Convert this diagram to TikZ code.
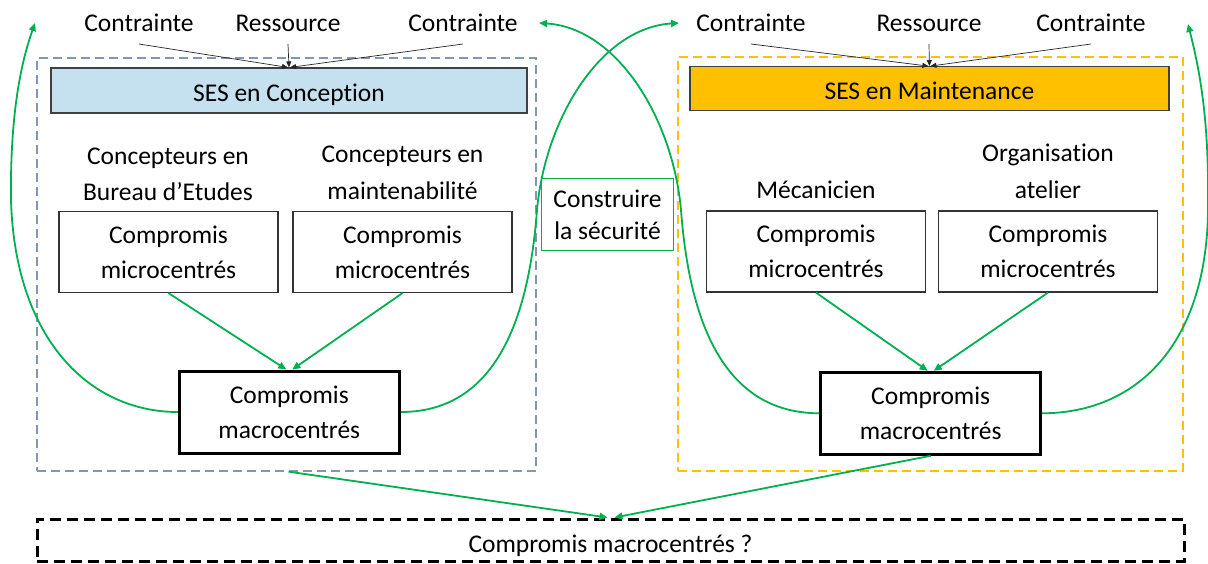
\documentclass[tikz,border=0pt]{standalone}
\usepackage{fontspec}
\setmainfont{Carlito}[Ligatures=NoCommon]
\usetikzlibrary{arrows.meta,calc}
\definecolor{grn}{HTML}{00B050}
\definecolor{lbcol}{HTML}{8497B0}
\definecolor{ybcol}{HTML}{FFC000}
\definecolor{sesblue}{HTML}{C5E0EE}
\definecolor{sesorange}{HTML}{FFC000}
\begin{document}
\begin{tikzpicture}[x=1pt,y=-1pt,
  txt/.style={font=\fontsize{25.5}{35}\selectfont, align=center, inner sep=0pt, text=black},
  toplbl/.style={txt, text height=18pt, text depth=0pt},
  lbl/.style={txt, font=\fontsize{25.5}{36.5}\selectfont},
  box/.style={txt, draw=black!80, line width=1.2pt, minimum width=219pt, minimum height=81pt},
  macro/.style={box, draw=black, line width=3pt, minimum width=220pt, minimum height=82pt},
  sesbox/.style={txt, draw=black!75, line width=1.2pt, text height=21pt, text depth=0pt},
  ga/.style={draw=grn, line width=1.8pt, -{Triangle[length=8pt,width=7pt]}},
  ba/.style={draw=black!85, line width=0.7pt, -{Triangle[length=6pt,width=5pt]}},
  cont/.style={inner sep=0pt, line width=1.3pt, dash pattern=on 9pt off 5pt}
]
\useasboundingbox (0,0) rectangle (1208,563);

% containers
\node[cont, draw=lbcol, minimum width=499pt, minimum height=413pt] (lbox) at (286.5,264.5) {};
\node[cont, draw=ybcol, minimum width=505pt, minimum height=414pt] (rbox) at (930.5,264) {};
\node[txt, draw=black, line width=3pt, dash pattern=on 11pt off 6pt, minimum width=1147pt, minimum height=42pt, text height=25pt, text depth=0pt] (bot) at (610.5,540) {Compromis macrocentrés ?};

% SES boxes
\node[sesbox, fill=sesblue, minimum width=476pt, minimum height=45pt] (ses1) at (289,90.5) {SES en Conception};
\node[sesbox, fill=sesorange, minimum width=479pt, minimum height=44pt] (ses2) at (929.4,88.7) {SES en Maintenance};

% top labels
\node[toplbl] (c1) at (139,22.5) {Contrainte};
\node[toplbl] (r1) at (288,22.5) {Ressource};
\node[toplbl] (c2) at (463,22.5) {Contrainte};
\node[toplbl] (c3) at (751,22.5) {Contrainte};
\node[toplbl] (r2) at (929,22.5) {Ressource};
\node[toplbl] (c4) at (1091,22.5) {Contrainte};

% actor labels
\node[lbl] (p1) at (168,174.5) {Concepteurs en\\Bureau d’Etudes};
\node[lbl] (p2) at (402.5,173) {Concepteurs en\\maintenabilité};
\node[txt, anchor=base] (p3) at (816,198.5) {Mécanicien};
\node[lbl] (p4) at (1048,171.5) {Organisation\\atelier};

% micro boxes
\node[box] (m1) at (168.5,252) {Compromis\\microcentrés};
\node[box] (m2) at (402.5,252) {Compromis\\microcentrés};
\node[box] (m3) at (816,251.5) {Compromis\\microcentrés};
\node[box] (m4) at (1048,251.5) {Compromis\\microcentrés};

% macro boxes
\node[macro] (ml) at (289.3,412) {Compromis\\macrocentrés};
\node[macro] (mr) at (930.7,413.3) {Compromis\\macrocentrés};

% central box
\node[txt, draw=grn, line width=1.2pt, minimum width=131.6pt, minimum height=72.4pt, font=\fontsize{25.5}{32}\selectfont] (cs) at (607.5,214.5) {Construire\\la sécurité};

% black input arrows
\draw[ba] ($(c1)+(0,21.5)$) -- ([xshift=-1pt]ses1.north);
\draw[ba] ($(r1)+(0,21.5)$) -- (ses1.north);
\draw[ba] ($(c2)+(0,21.5)$) -- ([xshift=1pt]ses1.north);
\draw[ba] ($(c3)+(0,21.5)$) -- ([xshift=-1pt]ses2.north);
\draw[ba] ($(r2)+(0,21.5)$) -- (ses2.north);
\draw[ba] ($(c4)+(0,21.5)$) -- ([xshift=1pt]ses2.north);

% micro -> macro
\draw[ga] (m1.south) -- ([xshift=-3pt]ml.north);
\draw[ga] (m2.south) -- ([xshift=3pt]ml.north);
\draw[ga] (m3.south) -- ([xshift=-3pt]mr.north);
\draw[ga] (m4.south) -- ([xshift=3pt]mr.north);

% to bottom
\draw[ga] ([xshift=2pt]lbox.south) -- ([xshift=-3pt]bot.north);
\draw[ga] (mr.south) -- ([xshift=4pt]bot.north);

% feedback curves
\coordinate (t1) at (35,23);
\coordinate (tA) at (679,23);
\coordinate (tB) at (539,23);
\coordinate (t3) at (1188,24);
\draw[ga] (ml.west) .. controls (90,412) and (15,340) .. (11,200) .. controls (10,110) and (22,60) .. (t1);
\draw[ga] (ml.east) .. controls (490,412) and (528,330) .. (537,210) .. controls (545,120) and (600,28) .. (tA);
\draw[ga] (mr.west) .. controls (728,413) and (690,330) .. (681,210) .. controls (673,120) and (618,28) .. (tB);
\draw[ga] (mr.east) .. controls (1140,413) and (1210,340) .. (1208,200) .. controls (1209,110) and (1197,60) .. (t3);
\end{tikzpicture}
\end{document}
